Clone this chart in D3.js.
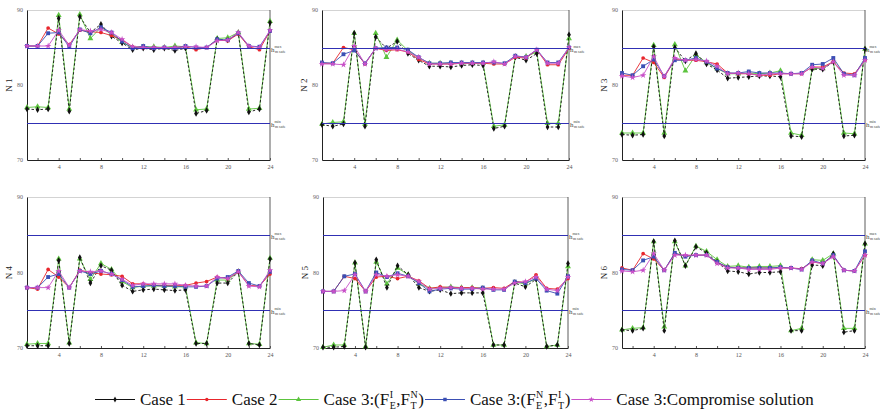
<!DOCTYPE html>
<html>
<head>
<meta charset="utf-8">
<script src="https://cdn.jsdelivr.net/npm/d3@7"></script>
<style>
  body { margin: 0; background: #fff; }
  svg { display: block; }
  text { font-family: "Liberation Serif", "DejaVu Serif", serif; }
</style>
</head>
<body>
<svg id="chart" width="880" height="414"></svg>
<script>
// hours 1..24
const hours = d3.range(1, 25)
const yTicks = [70, 80, 90]
const xTickLabels = [4, 8, 12, 16, 20, 24]
const hMax = 85, hMin = 75
const nodeNames = ['N 1', 'N 2', 'N 3', 'N 4', 'N 5', 'N 6']

// node 1
const n1Case1 = [76.8,76.7,76.8,88.9,76.5,89.1,87.0,88.1,86.5,85.6,84.7,84.9,84.7,84.9,84.6,84.9,76.2,76.6,86.1,86.0,86.9,76.4,76.8,88.3]
const n1Case2 = [85.2,85.2,87.6,86.8,85.4,87.3,87.1,87.0,86.6,86.0,85.1,85.0,85.0,85.0,85.0,85.1,84.7,85.0,86.0,85.9,86.8,85.1,84.7,87.2]
const n1Case3a = [77.0,77.1,77.0,89.3,76.8,89.4,86.2,87.7,86.8,85.7,85.0,85.1,85.1,85.0,85.2,85.1,76.7,76.8,86.2,86.3,87.0,76.8,76.9,88.5]
const n1Case3b = [85.2,85.2,86.9,87.0,85.1,87.4,86.9,87.7,87.0,85.8,84.9,85.2,84.9,85.0,84.9,85.2,85.0,85.0,86.1,86.0,86.9,85.2,85.1,87.2]
const n1Comp = [85.2,85.2,85.2,87.3,85.3,87.4,87.2,87.4,87.0,86.1,85.1,85.0,85.0,85.0,85.0,85.1,85.1,85.0,85.9,86.0,87.0,85.2,85.0,87.3]

// node 2
const n2Case1 = [74.7,74.5,74.8,86.9,74.5,86.4,84.9,85.8,84.2,83.3,82.5,82.5,82.4,82.6,82.7,82.6,74.2,74.5,83.7,83.3,84.2,74.4,74.4,86.7]
const n2Case2 = [82.9,82.9,85.0,84.7,82.8,84.9,84.6,84.7,84.4,83.4,82.8,82.8,82.8,82.9,82.9,82.9,82.8,82.8,83.7,83.6,84.7,82.7,82.7,84.9]
const n2Case3a = [74.8,75.0,75.1,86.9,74.8,86.9,83.7,86.0,84.6,83.6,82.9,82.9,82.9,82.9,82.9,82.9,74.5,74.7,83.8,83.8,84.4,74.9,74.9,86.2]
const n2Case3b = [83.0,82.9,84.1,84.6,82.9,84.9,85.0,85.0,84.7,83.7,82.9,82.9,83.0,83.0,83.0,83.0,83.0,82.9,83.9,83.7,84.7,83.0,83.0,85.0]
const n2Comp = [82.8,82.8,82.7,85.2,82.8,84.9,84.7,84.8,84.4,83.7,82.8,82.8,82.8,82.9,82.9,82.9,83.1,82.8,83.8,83.7,84.7,82.9,82.9,85.0]

// node 3
const n3Case1 = [73.4,73.3,73.4,85.1,73.2,85.0,83.2,84.2,82.8,82.0,80.9,81.0,81.1,81.2,81.2,81.1,73.2,73.1,82.1,82.1,83.1,73.2,73.3,84.8]
const n3Case2 = [81.3,81.3,83.6,83.0,81.0,83.4,83.3,83.3,83.1,82.8,81.6,81.5,81.5,81.3,81.3,81.5,81.5,81.5,82.4,82.4,83.1,81.6,81.5,83.3]
const n3Case3a = [73.6,73.6,73.6,85.3,73.6,85.4,81.9,84.0,83.0,82.2,81.5,81.5,81.6,81.5,81.6,81.9,73.6,73.3,82.2,82.2,83.1,73.6,73.5,84.8]
const n3Case3b = [81.6,81.3,82.5,83.4,81.2,83.3,83.3,83.6,83.1,82.2,81.6,81.6,81.8,81.6,81.6,81.6,81.5,81.6,82.7,82.8,83.6,81.5,81.3,83.6]
const n3Comp = [81.2,81.0,81.3,83.8,81.1,83.6,83.3,83.4,83.2,82.5,81.5,81.6,81.5,81.3,81.5,81.5,81.5,81.5,82.4,82.2,83.1,81.3,81.3,83.3]

// node 4
const n4Case1 = [70.3,70.3,70.3,81.6,70.6,82.0,78.6,80.9,80.3,78.3,77.5,77.7,77.8,77.7,77.6,77.7,70.6,70.6,78.6,78.6,80.1,70.6,70.4,81.8]
const n4Case2 = [78.0,77.8,80.4,79.4,78.0,80.3,80.0,79.8,79.7,79.5,78.5,78.5,78.3,78.3,78.3,78.3,78.6,78.8,79.4,79.2,80.1,78.3,78.2,79.8]
const n4Case3a = [70.5,70.6,70.6,81.8,70.7,81.8,79.1,81.2,80.4,78.8,78.0,78.2,78.2,78.2,78.1,78.1,70.7,70.6,79.0,79.0,80.1,70.6,70.5,81.9]
const n4Case3b = [78.0,78.0,79.4,79.8,78.0,80.2,79.8,80.2,79.8,79.0,78.1,78.2,78.3,78.2,78.2,78.1,78.1,78.2,79.2,79.4,80.2,78.6,78.2,80.1]
const n4Comp = [78.0,78.0,78.0,80.2,78.0,80.2,80.1,80.2,79.8,79.1,78.3,78.5,78.5,78.5,78.5,78.3,78.2,78.2,79.4,79.2,80.1,78.2,78.1,80.3]

// node 5
const n5Case1 = [70.1,70.1,70.2,81.3,70.1,81.7,78.0,80.9,79.7,78.0,77.5,77.7,77.2,77.3,77.3,77.3,70.4,70.4,78.6,78.1,79.1,70.2,70.4,81.2]
const n5Case2 = [77.5,77.5,79.5,79.2,77.5,79.4,79.5,79.2,79.5,78.9,77.9,78.1,78.0,78.0,78.0,77.9,78.0,77.9,78.8,78.7,79.7,77.9,77.8,79.2]
const n5Case3a = [70.1,70.4,70.4,81.3,70.2,81.4,78.5,80.6,79.7,78.5,77.9,78.0,78.1,78.0,78.0,77.9,70.4,70.4,78.7,78.5,79.2,70.2,70.4,80.8]
const n5Case3b = [77.5,77.5,79.5,79.8,77.5,80.0,79.4,79.9,79.5,78.6,77.5,77.8,77.9,77.8,77.8,78.0,77.7,77.7,78.8,78.6,79.2,77.6,77.2,79.5]
const n5Comp = [77.5,77.5,77.6,79.7,77.5,79.7,79.5,79.7,79.5,78.8,77.8,77.9,78.0,77.9,77.9,77.8,77.8,77.8,78.6,78.8,79.4,77.8,77.6,79.4]

// node 6
const n6Case1 = [72.4,72.3,72.6,84.1,72.3,84.2,80.9,83.4,82.6,81.4,80.2,80.1,79.8,80.0,80.0,80.1,72.3,72.3,81.0,80.9,82.5,72.1,72.3,83.8]
const n6Case2 = [80.6,80.3,82.5,81.8,80.3,82.5,82.2,82.3,82.3,81.3,80.7,80.6,80.6,80.6,80.6,80.6,80.6,80.5,81.4,81.2,82.2,80.3,80.2,82.3]
const n6Case3a = [72.4,72.6,72.7,84.1,72.8,84.1,80.9,83.5,82.8,81.7,80.8,80.9,80.7,80.8,80.8,80.9,72.3,72.6,81.7,81.6,82.5,72.6,72.6,83.8]
const n6Case3b = [80.4,80.3,81.6,82.1,80.3,82.6,82.1,82.3,82.3,81.4,80.7,80.6,80.6,80.6,80.6,80.7,80.6,80.4,81.6,81.2,82.3,80.3,80.2,82.8]
const n6Comp = [80.2,80.1,80.3,82.5,80.3,82.3,82.3,82.3,82.3,81.2,80.6,80.6,80.4,80.4,80.4,80.6,80.6,80.4,81.4,81.2,82.1,80.3,80.2,82.3]

const nodes = [
  [n1Case1, n1Case2, n1Case3a, n1Case3b, n1Comp],
  [n2Case1, n2Case2, n2Case3a, n2Case3b, n2Comp],
  [n3Case1, n3Case2, n3Case3a, n3Case3b, n3Comp],
  [n4Case1, n4Case2, n4Case3a, n4Case3b, n4Comp],
  [n5Case1, n5Case2, n5Case3a, n5Case3b, n5Comp],
  [n6Case1, n6Case2, n6Case3a, n6Case3b, n6Comp],
]

// colour, marker, marker size, dash
const styles = [
  {color: '#111111', symbol: d3.symbolDiamond, size: 12, dash: '2.5,2'},
  {color: '#e8262c', symbol: d3.symbolCircle, size: 11, dash: null},
  {color: '#5cc43e', symbol: d3.symbolTriangle, size: 15, dash: null},
  {color: '#3b4fb4', symbol: d3.symbolSquare, size: 15, dash: null},
  {color: '#c850c8', symbol: d3.symbolStar, size: 13, dash: null},
]
const drawOrder = [2, 0, 1, 3, 4]

const boxes = [
  {left: 27, right: 270, top: 10, bottom: 160},
  {left: 322, right: 569, top: 10, bottom: 160},
  {left: 622, right: 865, top: 10, bottom: 160},
  {left: 27, right: 270, top: 197, bottom: 348},
  {left: 323, right: 568, top: 197, bottom: 348},
  {left: 622, right: 865, top: 197, bottom: 348},
]

const svg = d3.select('#chart')

const drawPanel = (box, series, label) => {
  const g = svg.append('g')
  const x = d3.scaleLinear().domain([1, 24]).range([box.left, box.right])
  const y = d3.scaleLinear().domain([70, 90]).range([box.bottom, box.top])

  // frame
  g.append('line')
    .attr('x1', box.left).attr('x2', box.right)
    .attr('y1', box.top + 0.5).attr('y2', box.top + 0.5)
    .attr('stroke', '#c8c8c8').attr('stroke-width', 0.8)
  g.append('line')
    .attr('x1', box.right).attr('x2', box.right)
    .attr('y1', box.top).attr('y2', box.bottom)
    .attr('stroke', '#333').attr('stroke-width', 0.8)

  const xAxis = g.append('g')
    .attr('transform', `translate(0,${box.bottom})`)
    .call(d3.axisBottom(x).tickValues(d3.range(2, 25, 2)).tickSize(-2).tickSizeOuter(0).tickPadding(5)
      .tickFormat(d => xTickLabels.includes(d) ? d : ''))
  xAxis.select('.domain').attr('stroke', '#222')
  xAxis.selectAll('.tick line').attr('stroke', '#555')
  xAxis.selectAll('text')
    .style('font-family', '"Liberation Serif", serif')
    .style('font-size', '6px').style('fill', '#555')

  const yAxis = g.append('g')
    .attr('transform', `translate(${box.left},0)`)
    .call(d3.axisLeft(y).tickValues(yTicks).tickSize(0).tickPadding(4))
  yAxis.select('.domain').attr('stroke', '#222')
  yAxis.selectAll('text')
    .style('font-family', '"Liberation Serif", serif')
    .style('font-size', '6px').style('fill', '#666')

  g.append('text')
    .attr('transform', `translate(${box.left - 15},${(box.top + box.bottom) / 2}) rotate(-90)`)
    .attr('text-anchor', 'middle')
    .style('font-size', '9px')
    .style('fill', '#222')
    .text(label)

  const line = d3.line().x((d, i) => x(hours[i])).y(d => y(d))

  drawOrder.forEach(k => {
    const st = styles[k]
    g.append('path')
      .datum(series[k])
      .attr('d', line)
      .attr('fill', 'none')
      .attr('stroke', st.color)
      .attr('stroke-width', 0.9)
      .attr('stroke-dasharray', st.dash)
    g.selectAll(null)
      .data(series[k])
      .enter()
      .append('path')
      .attr('transform', (d, i) => `translate(${x(hours[i])},${y(d)})`)
      .attr('d', d3.symbol().type(st.symbol).size(st.size))
      .attr('fill', st.color)
  })

  // safe limits, drawn over the series
  ;[hMax, hMin].forEach((v, i) => {
    const ly = Math.round(y(v)) + 0.5
    g.append('line')
      .attr('x1', box.left).attr('x2', box.right)
      .attr('y1', ly).attr('y2', ly)
      .attr('stroke', '#3030b4')
      .attr('stroke-width', 1)
    const t = g.append('text')
      .attr('x', box.right + 1)
      .attr('y', ly + 3)
      .style('fill', '#444')
      .style('font-size', '7px')
    t.append('tspan').text('h')
    t.append('tspan').attr('dy', -3.5).style('font-size', '4px').text(i === 0 ? 'max' : 'min')
    t.append('tspan').attr('x', box.right + 5).attr('dy', 5).style('font-size', '4px').text('m safe')
  })
}

boxes.forEach((b, i) => drawPanel(b, nodes[i], nodeNames[i]))

// legend: each piece is its own text so sub/superscripts stack after the F
const legend = svg.append('g')
const legendY = 405
const legendText = [
  ['Case 1'],
  ['Case 2'],
  ['Case 3:(F', ['I', 'E'], ',F', ['N', 'T'], ')'],
  ['Case 3:(F', ['N', 'E'], ',F', ['I', 'T'], ')'],
  ['Case 3:Compromise solution'],
]
let lx = 95
legendText.forEach((parts, k) => {
  const st = styles[k]
  legend.append('line')
    .attr('x1', lx).attr('x2', lx + 40)
    .attr('y1', legendY - 5.5).attr('y2', legendY - 5.5)
    .attr('stroke', st.color).attr('stroke-width', 1)
  legend.append('path')
    .attr('transform', `translate(${lx + 20},${legendY - 5.5})`)
    .attr('d', d3.symbol().type(st.symbol).size(st.size * 0.8))
    .attr('fill', st.color)
  let tx = lx + 45
  parts.forEach(p => {
    if (typeof p === 'string') {
      const t = legend.append('text')
        .attr('x', tx).attr('y', legendY)
        .style('font-size', '17px').style('fill', '#111')
        .text(p)
      tx += t.node().getComputedTextLength()
    } else {
      const sup = legend.append('text')
        .attr('x', tx + 0.5).attr('y', legendY - 7)
        .style('font-size', '10px').style('fill', '#111')
        .text(p[0])
      const sub = legend.append('text')
        .attr('x', tx + 0.5).attr('y', legendY + 4)
        .style('font-size', '10px').style('fill', '#111')
        .text(p[1])
      tx += Math.max(sup.node().getComputedTextLength(), sub.node().getComputedTextLength()) + 1
    }
  })
  lx = tx + 1
})
</script>
</body>
</html>
